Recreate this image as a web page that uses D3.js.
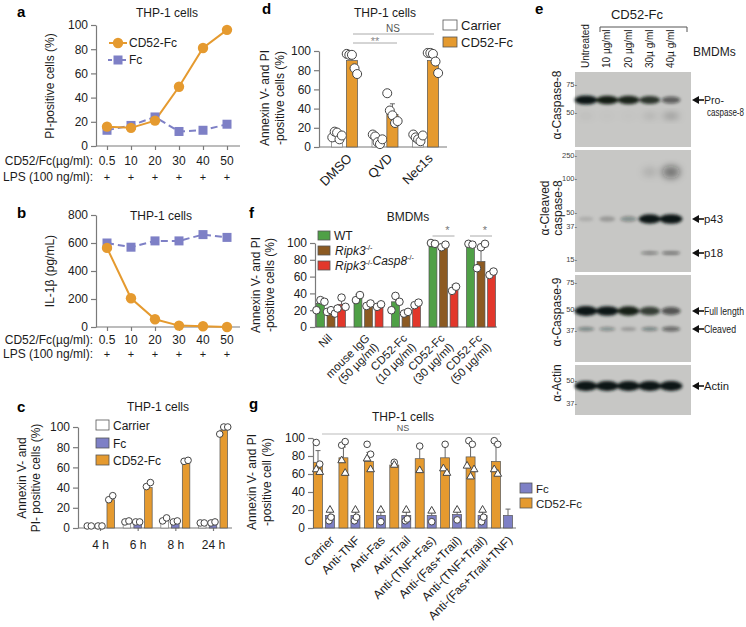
<!DOCTYPE html>
<html><head><meta charset="utf-8">
<script src="https://cdn.jsdelivr.net/npm/d3@7"></script>
<style>body{margin:0;background:#fff}</style>
</head><body>
<svg id="chart" width="746" height="627"></svg>
<script>
// ---------------- DATA ----------------
const doseLabels = ["0.5","10","20","30","40","50"];
const lpsLabels = ["+","+","+","+","+","+"];
const aTicks = [0,20,40,60,80,100];
const aCD52 = [16,15,21,49,81,96];
const aFc = [13,17,24,12,13,18];
const bTicks = [0,200,400,600,800];
const bCD52 = [565,205,55,10,5,0];
const bFc = [600,570,615,615,660,640];

const pctTicks = [0,20,40,60,80,100];
const cTimes = ["4 h","6 h","8 h","24 h"];
const cCarrier = [2,6,7,5];
const cFc = [2,6,6,6];
const cCD52 = [28,40,65,97];
const cCarrierPts = [[2,2],[6,7],[7,10],[5,5]];
const cFcPts = [[2,2],[6,6],[6,7],[5,6]];
const cCD52Pts = [[28,32],[41,45],[66,67],[93,100,100]];

const dGroups = ["DMSO","QVD","Nec1s"];
const dCarrier = [11,9,10];
const dCD52 = [90,34,90];
const dCarrierErr = [3,3,3];
const dCD52Err = [8,11,8];
const dCarrierPts = [[10,16,15,8,12],[13,11,5,3,8],[13,10,8,6,12]];
const dCD52Pts = [[97,96,96,82,76],[56,38,33,25,27],[98,98,97,89,77]];

const fGroups = ["Nil","IgG50","CD10","CD30","CD50"];
const fLabels = [["Nil"],["mouse IgG","(50 µg/ml)"],["CD52-Fc","(10 µg/ml)"],["CD52-Fc","(30 µg/ml)"],["CD52-Fc","(50 µg/ml)"]];
const fWT = [28,35,30,99,98];
const fRip = [18,25,16,95,78];
const fRC = [27,24,26,46,64];
const fWTErr = [5,4,6,1,1];
const fRipErr = [3,3,3,2,18];
const fRCErr = [8,3,3,4,3];
const fWTPts = [[20,32,30],[32,38],[20,37,30],[100,99],[99,98]];
const fRipPts = [[18,20,16],[25,28],[16,18],[95,98],[70,95,99]];
const fRCPts = [[22,35,24],[24,27],[26,29],[43,48],[62,66]];

const gGroups = ["Carrier","Anti-TNF","Anti-Fas","Anti-Trail","Anti-(TNF+Fas)","Anti-(Fas+Trail)","Anti-(TNF+Trail)","Anti-(Fas+Trail+TNF)"];
const gCD52 = [73,78,74,70,77,78,79,74];
const gFc = [14,14,14,14,14,15,14,14];
const gCD52Err = [13,12,10,3,12,14,17,18];
const gFcErr = [6,6,6,6,6,6,6,7];
const gCD52Circ = [[95,71],[92,96],[93,82],[73],[91],[93],[97,93],[97,93]];
const gCD52Tri = [[65,62],[75,61],[77,65],[70],[64],[66,61],[69,57,65],[65,60]];
const gFcCirc = [[8,12],[8,12],[7],[8,10],[7],[9],[7,12],[]];
const gFcTri = [[20],[20],[20],[20],[19],[20],[20],[]];

const lanes = ["Untreated","10 µg/ml","20 µg/ml","30µ g/ml","40µ g/ml"];
const proCasp8 = [1.0,0.92,0.88,0.8,0.55];
const proCasp8Faint = [0.08,0.05,0.05,0.15,0.3];
const p43 = [0.12,0.22,0.3,0.95,1.0];
const p18 = [0,0,0,0.45,0.5];
const highSmear = [0,0,0,0.12,0.45];
const casp9Full = [1.0,0.95,0.9,0.75,0.6];
const casp9Cleaved = [0.35,0.3,0.22,0.35,0.5];
const actin = [1,1,1,1,1];

// ---------------- STYLE ----------------
const F = '"Liberation Sans", Arial, Helvetica, sans-serif';
const ORANGE = "#E59A2F", BLUE = "#7E80C6", GREEN = "#4FA046", BROWN = "#8C5A22", RED = "#E2372B";
const AX = "#7a7a7a", TXT = "#1b1b1b";
const svg = d3.select("#chart").attr("font-family", F);

function text(x, y, s, o = {}) {
  const t = svg.append("text").attr("x", x).attr("y", y).text(s)
    .attr("font-size", o.size || 12).attr("fill", o.fill || TXT)
    .attr("text-anchor", o.anchor || "start");
  if (o.weight) t.attr("font-weight", o.weight);
  if (o.rot) t.attr("transform", `rotate(${o.rot},${x},${y})`);
  if (o.len) t.attr("textLength", o.len).attr("lengthAdjust", "spacingAndGlyphs");
  return t;
}
function styleAxis(g, size) {
  g.attr("font-size", null).attr("font-family", null);
  g.select(".domain").attr("stroke", AX).attr("stroke-width", 1.2);
  g.selectAll(".tick line").attr("stroke", AX).attr("stroke-width", 1.2);
  g.selectAll(".tick text").attr("fill", TXT).attr("font-size", size || 12).attr("font-family", F);
}
function yAxis(scale, x, ticks, size) {
  const g = svg.append("g").attr("transform", `translate(${x},0)`)
    .call(d3.axisLeft(scale).tickValues(ticks).tickSize(5).tickSizeOuter(0).tickPadding(3));
  styleAxis(g, size); return g;
}
function xLine(x0, x1, y) {
  svg.append("line").attr("x1", x0).attr("x2", x1).attr("y1", y).attr("y2", y)
    .attr("stroke", AX).attr("stroke-width", 1.2);
}
function yLabel(lines, x, y, gap, size) {
  lines.forEach((l, i) => text(x + i * gap, y, l, {anchor: "middle", rot: -90, size: size || 12}));
}

// panel letters
[["a",17,17],["b",17,218],["c",17,412],["d",262,14],["e",535,14],["f",249,218],["g",249,409]]
  .forEach(([l,x,y]) => text(x, y, l, {size: 15, weight: "bold", fill: "#000"}));

// ---------------- LINE PANELS a, b ----------------
const xa = d3.scalePoint().domain(doseLabels).range([107, 227]);
function linePanel(yScale, ticks, cd52, fc, rowY1, rowY2, title, titleX, titleY, ylab, ylabY) {
  yAxis(yScale, 96, ticks);
  xLine(96, 240, yScale.range()[0]);
  const gx = svg.append("g").attr("transform", `translate(0,${yScale.range()[0]})`)
    .call(d3.axisBottom(xa).tickSize(4).tickFormat(() => ""));
  styleAxis(gx); gx.select(".domain").remove();
  doseLabels.forEach((d) => text(xa(d), rowY1, d, {anchor: "middle"}));
  lpsLabels.forEach((d, i) => text(xa(doseLabels[i]), rowY2, d, {anchor: "middle", size: 11}));
  text(93, rowY1, "CD52/Fc(µg/ml):", {anchor: "end"});
  text(93, rowY2, "LPS (100 ng/ml):", {anchor: "end"});
  text(titleX, titleY, title, {anchor: "middle"});
  yLabel([ylab], 54, ylabY, 0);
  const line = d3.line().x((d, i) => xa(doseLabels[i])).y(d => yScale(d));
  svg.append("path").attr("d", line(fc)).attr("fill", "none").attr("stroke", BLUE)
    .attr("stroke-width", 2).attr("stroke-dasharray", "7,4");
  svg.append("path").attr("d", line(cd52)).attr("fill", "none").attr("stroke", ORANGE).attr("stroke-width", 2);
  svg.append("g").selectAll("rect").data(fc).join("rect")
    .attr("x", (d, i) => xa(doseLabels[i]) - 4.5).attr("y", d => yScale(d) - 4.5)
    .attr("width", 9).attr("height", 9).attr("fill", BLUE);
  svg.append("g").selectAll("circle").data(cd52).join("circle")
    .attr("cx", (d, i) => xa(doseLabels[i])).attr("cy", d => yScale(d)).attr("r", 5.2).attr("fill", ORANGE);
}
const ya = d3.scaleLinear().domain([0, 100]).range([146, 25]);
linePanel(ya, aTicks, aCD52, aFc, 165, 181, "THP-1 cells", 167, 17, "PI-positive cells (%)", 86);
const yb = d3.scaleLinear().domain([0, 800]).range([327, 215]);
linePanel(yb, bTicks, bCD52, bFc, 344, 358, "THP-1 cells", 161, 220, "IL-1β (pg/mL)", 271);
// legend a
svg.append("line").attr("x1", 109).attr("x2", 127).attr("y1", 43).attr("y2", 43).attr("stroke", ORANGE).attr("stroke-width", 2);
svg.append("circle").attr("cx", 118).attr("cy", 43).attr("r", 5.2).attr("fill", ORANGE);
text(129, 47, "CD52-Fc");
svg.append("line").attr("x1", 108).attr("x2", 128).attr("y1", 60).attr("y2", 60).attr("stroke", BLUE).attr("stroke-width", 2).attr("stroke-dasharray", "4,3");
svg.append("rect").attr("x", 113.5).attr("y", 55.5).attr("width", 9).attr("height", 9).attr("fill", BLUE);
text(129, 64, "Fc");

// ---------------- BAR HELPERS ----------------
function drawSeries(xg, groups, xs, y, s) {
  const gEl = svg.append("g");
  groups.forEach((grp, i) => {
    const cx = xg(grp) + xs(s.name) + xs.bandwidth() / 2;
    const w = xs.bandwidth();
    if (s.err) {
      gEl.append("line").attr("x1", cx).attr("x2", cx).attr("y1", y(s.vals[i])).attr("y2", y(s.vals[i] + s.err[i]))
        .attr("stroke", "#666").attr("stroke-width", 1);
      gEl.append("line").attr("x1", cx - 2.5).attr("x2", cx + 2.5).attr("y1", y(s.vals[i] + s.err[i])).attr("y2", y(s.vals[i] + s.err[i]))
        .attr("stroke", "#666").attr("stroke-width", 1);
    }
    gEl.append("rect").attr("x", cx - w / 2).attr("y", y(s.vals[i])).attr("width", w)
      .attr("height", y(0) - y(s.vals[i])).attr("fill", s.fill).attr("stroke", s.stroke || "#555").attr("stroke-width", 0.7);
    const pts = s.pts ? s.pts[i] : [];
    pts.forEach((v, j) => {
      const off = (j - (pts.length - 1) / 2) * s.jit;
      gEl.append("circle").attr("cx", cx + off).attr("cy", y(v)).attr("r", s.r)
        .attr("fill", "#fff").attr("stroke", "#444").attr("stroke-width", 1);
    });
    const tri = s.tri ? s.tri[i] : [];
    tri.forEach((v, j) => {
      const off = (j - (tri.length - 1) / 2) * s.jit;
      gEl.append("path").attr("d", d3.symbol(d3.symbolTriangle, 26)())
        .attr("transform", `translate(${cx + off},${y(v)})`)
        .attr("fill", "#fff").attr("stroke", "#444").attr("stroke-width", 1);
    });
  });
}
function legendBox(x, y, w, h, fill, label, size, italicParts) {
  svg.append("rect").attr("x", x).attr("y", y).attr("width", w).attr("height", h)
    .attr("fill", fill).attr("stroke", "#555").attr("stroke-width", 0.8);
  if (italicParts) {
    const t = svg.append("text").attr("x", x + w + 5).attr("y", y + h).attr("font-size", size).attr("fill", TXT);
    italicParts.forEach(([s, sup]) => {
      t.append("tspan").attr("font-style", "italic").text(s);
      t.append("tspan").attr("font-size", size * 0.6).attr("dy", -5).text(sup);
      t.append("tspan").attr("dy", 5).text("");
    });
  } else text(x + w + 4, y + h, label, {size});
}
function rotLabels(xg, groups, labels, dx, y, size) {
  groups.forEach((grp, i) => {
    const x = xg(grp) + dx;
    const t = svg.append("text").attr("transform", `translate(${x},${y}) rotate(-45)`)
      .attr("text-anchor", "end").attr("font-size", size).attr("fill", TXT);
    labels[i].forEach((l, j) => t.append("tspan").attr("x", 0).attr("dy", j === 0 ? "0.35em" : "1.1em").text(l));
  });
}

// ---------------- PANEL c ----------------
{
  const y = d3.scaleLinear().domain([0, 100]).range([528, 427]);
  const xg = d3.scalePoint().domain(cTimes).range([100, 213]);
  const xs = d3.scaleBand().domain(["Carrier","Fc","CD52-Fc"]).range([-14.5, 14.5]).paddingInner(0.3);
  yAxis(y, 78, pctTicks);
  xLine(78, 232, 528);
  const gx = svg.append("g").attr("transform", "translate(0,528)").call(d3.axisBottom(xg).tickSize(3).tickPadding(9));
  styleAxis(gx); gx.select(".domain").remove();
  drawSeries(xg, cTimes, xs, y, {name: "Carrier", vals: cCarrier, fill: "#fff", stroke: "#777", pts: cCarrierPts, r: 3.3, jit: 4});
  drawSeries(xg, cTimes, xs, y, {name: "Fc", vals: cFc, fill: BLUE, pts: cFcPts, r: 3.3, jit: 4});
  drawSeries(xg, cTimes, xs, y, {name: "CD52-Fc", vals: cCD52, fill: ORANGE, pts: cCD52Pts, r: 3.3, jit: 4});
  text(158, 411, "THP-1 cells", {anchor: "middle"});
  legendBox(96, 420, 13, 10, "#fff", "Carrier", 12);
  legendBox(96, 438, 13, 10, BLUE, "Fc", 12);
  legendBox(96, 455, 13, 10, ORANGE, "CD52-Fc", 12);
  svg.append("text").attr("x", 26).attr("y", 478).attr("text-anchor", "middle").attr("font-size", 12).attr("fill", TXT)
    .attr("transform", "rotate(-90,26,478)").text("Annexin V- and");
  svg.append("text").attr("x", 40).attr("y", 478).attr("text-anchor", "middle").attr("font-size", 12).attr("fill", TXT)
    .attr("transform", "rotate(-90,40,478)").text("PI- positive cells (%)");
}

// ---------------- PANEL d ----------------
{
  const y = d3.scaleLinear().domain([0, 100]).range([147, 51]);
  const xg = d3.scalePoint().domain(dGroups).range([344.5, 425.5]);
  const xs = d3.scaleBand().domain(["Carrier","CD52-Fc"]).range([-13, 13]).paddingInner(0.25);
  yAxis(y, 319, pctTicks);
  xLine(319, 447, 147);
  drawSeries(xg, dGroups, xs, y, {name: "Carrier", vals: dCarrier, err: dCarrierErr, fill: "#fff", stroke: "#777", pts: dCarrierPts, r: 4.5, jit: 2.4});
  drawSeries(xg, dGroups, xs, y, {name: "CD52-Fc", vals: dCD52, err: dCD52Err, fill: ORANGE, pts: dCD52Pts, r: 4.5, jit: 2.6});
  rotLabels(xg, dGroups, dGroups.map(d => [d]), 5, 156, 13);
  text(385, 17, "THP-1 cells", {anchor: "middle", size: 12});
  text(393, 32, "NS", {anchor: "middle", size: 10, fill: "#555"});
  svg.append("line").attr("x1", 353).attr("x2", 434).attr("y1", 34).attr("y2", 34).attr("stroke", "#aaa");
  text(375, 45, "**", {anchor: "middle", size: 11, fill: "#888"});
  svg.append("line").attr("x1", 353).attr("x2", 397).attr("y1", 43).attr("y2", 43).attr("stroke", "#aaa");
  legendBox(443, 20, 14, 10, "#fff", "Carrier", 13);
  legendBox(443, 37, 14, 10, ORANGE, "CD52-Fc", 13);
  yLabel(["Annexin V- and PI", "-positive cells (%)"], 269, 98, 15);
}

// ---------------- PANEL f ----------------
{
  const y = d3.scaleLinear().domain([0, 100]).range([327, 243]);
  const xg = d3.scalePoint().domain(fGroups).range([331, 481]);
  const xs = d3.scaleBand().domain(["WT","Rip","RC"]).range([-14.5, 14.5]).paddingInner(0.25);
  yAxis(y, 315, pctTicks);
  xLine(315, 497, 327);
  drawSeries(xg, fGroups, xs, y, {name: "WT", vals: fWT, err: fWTErr, fill: GREEN, pts: fWTPts, r: 3.8, jit: 4});
  drawSeries(xg, fGroups, xs, y, {name: "Rip", vals: fRip, err: fRipErr, fill: BROWN, pts: fRipPts, r: 3.8, jit: 4});
  drawSeries(xg, fGroups, xs, y, {name: "RC", vals: fRC, err: fRCErr, fill: RED, pts: fRCPts, r: 3.8, jit: 4});
  rotLabels(xg, fGroups, fLabels, -1, 336, 11.5);
  text(408, 221, "BMDMs", {anchor: "middle", size: 12});
  ["CD30", "CD50"].forEach((g) => {
    const cx = xg(g);
    svg.append("line").attr("x1", cx - 11).attr("x2", cx + 11).attr("y1", 236).attr("y2", 236).attr("stroke", "#aaa");
    text(cx + 4, 234, "*", {anchor: "middle", size: 11, fill: "#777"});
  });
  legendBox(318, 231, 12, 9, GREEN, "WT", 12);
  legendBox(318, 246, 12, 9, BROWN, "", 12, [["Ripk3", "-/-"]]);
  legendBox(318, 261, 12, 9, RED, "", 12, [["Ripk3", "-/-"], ["Casp8", "-/-"]]);
  yLabel(["Annexin V- and PI", "-positive cells  (%)"], 260, 285, 14);
}

// ---------------- PANEL g ----------------
{
  const y = d3.scaleLinear().domain([0, 100]).range([528, 438]);
  const xg = d3.scalePoint().domain(gGroups).range([324, 502]);
  const xs = d3.scaleBand().domain(["CD52-Fc","Fc"]).range([-10.5, 10.5]).paddingInner(0.25);
  yAxis(y, 313, pctTicks);
  xLine(313, 516, 528);
  drawSeries(xg, gGroups, xs, y, {name: "CD52-Fc", vals: gCD52, err: gCD52Err, fill: ORANGE, pts: gCD52Circ, tri: gCD52Tri, r: 3.3, jit: 3.5});
  drawSeries(xg, gGroups, xs, y, {name: "Fc", vals: gFc, err: gFcErr, fill: BLUE, pts: gFcCirc, tri: gFcTri, r: 3.3, jit: 2});
  rotLabels(xg, gGroups, gGroups.map(d => [d]), 8, 538, 12);
  text(403, 421, "THP-1 cells", {anchor: "middle", size: 12});
  text(403, 431, "NS", {anchor: "middle", size: 9, fill: "#555"});
  svg.append("line").attr("x1", 322).attr("x2", 500).attr("y1", 434).attr("y2", 434).attr("stroke", "#bbb");
  legendBox(520, 483, 12, 10, BLUE, "Fc", 11.5);
  legendBox(520, 498, 12, 10, ORANGE, "CD52-Fc", 11.5);
  yLabel(["Annexin V- and PI", "-positive  cell (%)"], 256, 482, 15);
}

// ---------------- PANEL e (blot) ----------------
{
  const defs = svg.append("defs");
  defs.append("filter").attr("id", "blur").attr("x", "-50%").attr("y", "-100%").attr("width", "200%").attr("height", "300%")
    .append("feGaussianBlur").attr("stdDeviation", 1.6);
  defs.append("filter").attr("id", "blur2").attr("x", "-50%").attr("y", "-100%").attr("width", "200%").attr("height", "300%")
    .append("feGaussianBlur").attr("stdDeviation", 3.5);
  const xl = d3.scalePoint().domain(lanes).range([586, 671]);
  const panels = [[72, 147], [150, 272], [275, 362], [365, 415]];
  panels.forEach(([y0, y1]) => svg.append("rect").attr("x", 575).attr("y", y0).attr("width", 116).attr("height", y1 - y0).attr("fill", "#c7c7c5"));
  function bands(vals, yc, h, filt) {
    svg.append("g").attr("filter", `url(#${filt || "blur"})`).selectAll("ellipse").data(vals).join("ellipse")
      .attr("cx", (d, i) => xl(lanes[i])).attr("cy", yc)
      .attr("rx", d => 7 + 4.5 * d).attr("ry", d => h * (0.45 + 0.55 * d))
      .attr("fill", "#101512").attr("opacity", d => Math.min(1, d * 1.05));
  }
  bands(proCasp8, 100, 4.5);
  bands(proCasp8Faint, 116, 4, "blur2");
  bands(highSmear, 172, 9, "blur2");
  bands(p43, 219, 4.8);
  bands(p18, 253, 2.2);
  bands(casp9Full, 311, 5);
  bands(casp9Cleaved, 329, 3.5);
  bands(actin, 386, 5);
  const markers = [[84,"75"],[112,"50"],[155,"250"],[178,"100"],[212,"50"],[226,"37"],[259,"15"],[282,"75"],[309,"50"],[330,"37"],[380,"50"],[403,"37"]];
  markers.forEach(([yy, m]) => text(577, yy + 3, m + "-", {anchor: "end", size: 7.5, fill: "#444"}));
  // lane labels
  lanes.forEach(l => text(xl(l) + 3, 68, l, {rot: -90, size: 10}));
  text(637, 19, "CD52-Fc", {anchor: "middle", size: 13});
  svg.append("path").attr("d", "M600,32 V27 H687 V32").attr("fill", "none").attr("stroke", "#555").attr("stroke-width", 1);
  text(693, 56, "BMDMs", {size: 12});
  // left labels
  yLabel(["α-Caspase-8"], 561, 105, 0);
  yLabel(["α-Cleaved", "caspase-8"], 549, 208, 13);
  yLabel(["α-Caspase-9"], 561, 312, 0);
  yLabel(["α-Actin"], 561, 383, 0);
  // arrows
  const arrows = [[100, "Pro-", 20], [219, "p43", 19], [253, "p18", 19], [311, "Full length", 40], [329, "Cleaved", 32], [386, "Actin", 25]];
  arrows.forEach(([yy, l, len]) => {
    svg.append("line").attr("x1", 697).attr("x2", 704).attr("y1", yy).attr("y2", yy).attr("stroke", "#111").attr("stroke-width", 1.6);
    svg.append("path").attr("d", `M692,${yy} L699,${yy - 4} L699,${yy + 4} Z`).attr("fill", "#111");
    text(704, yy + 4, l, {size: 11, len});
  });
  text(707, 116, "caspase-8", {size: 11, len: 37});
}
</script>
</body></html>
